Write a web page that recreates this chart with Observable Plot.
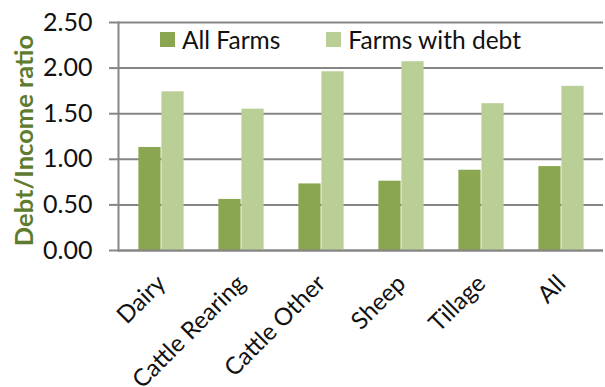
<!DOCTYPE html>
<html>
<head>
<meta charset="utf-8">
<script src="https://cdn.jsdelivr.net/npm/d3@7"></script>
<script src="https://cdn.jsdelivr.net/npm/@observablehq/plot@0.6"></script>
<style>
  html, body { margin: 0; padding: 0; background: #fff; }
  #chart { position: relative; width: 605px; height: 387px; overflow: hidden; font-family: Lato, "Open Sans", sans-serif; }
  .legend { position: absolute; top: 25px; left: 160px; display: flex; align-items: center; font-size: 24.5px; color: #111; }
  .legend .item { display: flex; align-items: center; }
  .legend .sw { width: 15px; height: 15px; margin-right: 7px; }
</style>
</head>
<body>
<div id="chart"></div>
<script>
// Farm types and debt-to-income ratios
const categories = ["Dairy", "Cattle Rearing", "Cattle Other", "Sheep", "Tillage", "All"];
const allFarms = [1.13, 0.56, 0.73, 0.76, 0.88, 0.92];
const farmsWithDebt = [1.74, 1.55, 1.96, 2.07, 1.61, 1.80];
const seriesNames = ["All Farms", "Farms with debt"];
const seriesColors = ["#8ba650", "#b9cf96"];
const yTicks = [0, 0.5, 1, 1.5, 2, 2.5];

const width = 605, height = 387;
const marginLeft = 118, marginRight = 2, marginTop = 22, marginBottom = 137;
const step = (width - marginLeft - marginRight) / categories.length;
const barW = step * 0.285;

const rows = categories.flatMap((c, i) => [
  {category: c, series: seriesNames[0], value: allFarms[i]},
  {category: c, series: seriesNames[1], value: farmsWithDebt[i]}
]);

const plot = Plot.plot({
  width, height, marginLeft, marginRight, marginTop, marginBottom,
  style: {fontFamily: "Lato, 'Open Sans', sans-serif", fontSize: "24px", color: "#111", background: "transparent", overflow: "visible"},
  x: {domain: categories, padding: 0, label: null},
  y: {domain: [0, 2.5], label: null},
  color: {domain: seriesNames, range: seriesColors},
  marks: [
    Plot.gridY(yTicks, {stroke: "#868686", strokeOpacity: 1, strokeWidth: 2}),
    Plot.barY(rows.filter(d => d.series === seriesNames[0]), {
      x: "category", y: "value", fill: "series",
      insetLeft: step / 2 - barW, insetRight: step / 2
    }),
    Plot.barY(rows.filter(d => d.series === seriesNames[1]), {
      x: "category", y: "value", fill: "series",
      insetLeft: step / 2, insetRight: step / 2 - barW
    }),
    Plot.ruleY([0], {stroke: "#868686", strokeWidth: 2}),
    Plot.frame({anchor: "left", stroke: "#868686", strokeWidth: 2}),
    Plot.axisY(yTicks, {tickFormat: d3.format(".2f"), tickSize: 9, tickPadding: 17, stroke: "#868686", strokeWidth: 2, label: null, fontSize: 25}),
    Plot.axisX({tickRotate: -45, tickSize: 0, tickPadding: 29, label: null, fontSize: 24}),
    Plot.text(["Debt/Income ratio"], {
      frameAnchor: "left", textAnchor: "middle", rotate: -90, dx: -94, dy: 4,
      fill: "#5e7b2e", fontWeight: "bold", fontSize: 25.5
    })
  ]
});

const chart = document.getElementById("chart");
chart.appendChild(plot);

// Legend placed inside the plot area
const legend = document.createElement("div");
legend.className = "legend";
seriesNames.forEach((name, i) => {
  const item = document.createElement("div");
  item.className = "item";
  item.style.marginRight = i === 0 ? "46px" : "0";
  const sw = document.createElement("div");
  sw.className = "sw";
  sw.style.background = seriesColors[i];
  const label = document.createElement("span");
  label.textContent = name;
  item.appendChild(sw);
  item.appendChild(label);
  legend.appendChild(item);
});
chart.appendChild(legend);
</script>
</body>
</html>
